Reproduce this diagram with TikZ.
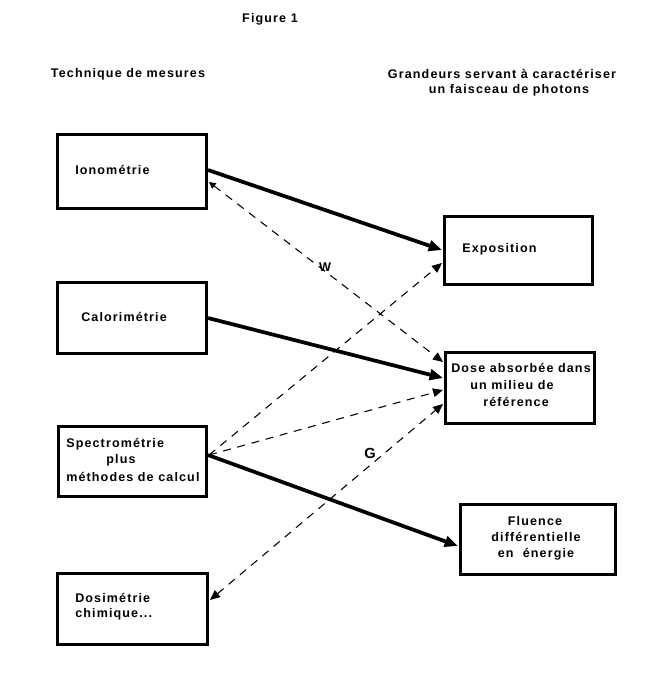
\documentclass[tikz,border=0pt]{standalone}
\usepackage{fontspec}
\setmainfont{Liberation Sans}[LetterSpace=9]
\usetikzlibrary{arrows.meta,calc}
\begin{document}
\begin{tikzpicture}[x=0.75pt,y=-0.75pt,
  box/.style={draw,line width=2.25pt,inner sep=0pt},
  txt/.style={inner sep=0pt,font=\bfseries\fontsize{9.4}{11}\selectfont},
  solidarrow/.style={line width=2.8pt,-{Triangle[length=10pt,width=8pt]}},
  dasharrow/.style={line width=0.8pt,dash pattern=on 6pt off 5pt,-{Triangle[length=7.5pt,width=6.5pt]}},
  smalltip/.style={{Triangle[length=5pt,width=5pt]}-{Triangle[length=7.5pt,width=6.5pt]}},
  biglabel/.style={inner sep=0pt,font=\bfseries\fontsize{11}{13}\selectfont}]
\useasboundingbox (0,0) rectangle (647,677);
\fill[white] (0,0) rectangle (647,677);
% titles
\node[txt] (fig) at (270,19) {Figure 1};
\node[txt] (techtitle) at (128,74) {Technique de mesures};
\node[txt] (grtitle1) at (502,74) {Grandeurs servant à caractériser};
\node[txt] (grtitle2) at (509,90) {un faisceau de photons};
% left boxes
\node[box,minimum width=111.75pt,minimum height=55.5pt] (ion) at (132,171.5) {};
\node[box,minimum width=111.75pt,minimum height=53.25pt] (cal) at (132,318) {};
\node[box,minimum width=111pt,minimum height=52.5pt] (spec) at (132.5,461.5) {};
\node[box,minimum width=112.5pt,minimum height=53.25pt] (dosi) at (132.5,609) {};
% right boxes
\node[box,minimum width=111pt,minimum height=51pt] (exp) at (518.5,250.5) {};
\node[box,minimum width=111.75pt,minimum height=53.25pt] (dose) at (520,388) {};
\node[box,minimum width=116.25pt,minimum height=52.5pt] (flu) at (538,539.5) {};
% box texts
\node[txt,anchor=west] (iont) at (75,170) {Ionométrie};
\node[txt,anchor=west] (calt) at (81,317) {Calorimétrie};
\node[txt,anchor=west] (spect1) at (66,444) {Spectrométrie};
\node[txt] (spect2) at (121,460) {plus};
\node[txt,anchor=west] (spect3) at (66,477) {méthodes de calcul};
\node[txt,anchor=west] (dosit1) at (75,598) {Dosimétrie};
\node[txt,anchor=west] (dosit2) at (75,614) {chimique...};
\node[txt,anchor=west] (expt) at (462,249) {Exposition};
\node[txt] (doset1) at (521,368) {Dose absorbée dans};
\node[txt] (doset2) at (512,385) {un milieu de};
\node[txt] (doset3) at (516,402) {référence};
\node[txt] (flut1) at (535,521) {Fluence};
\node[txt] (flut2) at (536,537) {différentielle};
\node[txt] (flut3) at (536,554) {en~~énergie};
% labels
\node[biglabel,font=\bfseries\fontsize{9.5}{11}\selectfont] (W) at (325,267) {W};
\node[biglabel] (G) at (370,453) {G};
% solid arrows
\draw[solidarrow] ($(ion.east)+(0,-1.5)$) -- ($(exp.west)+(-1,-0.5)$);
\draw[solidarrow] ($(cal.east)+(0,0)$) -- ($(dose.west)+(-1,-10)$);
\draw[solidarrow] ($(spec.east)+(0,-6.5)$) -- ($(flu.west)+(-1,6.5)$);
% dashed arrows
\draw[dasharrow,smalltip] ($(ion.east)+(1,10.5)$) -- ($(dose.west)+(-1,-26)$);
\draw[dasharrow] ($(spec.east)+(1,-6.5)$) -- ($(exp.west)+(-1,12.5)$);
\draw[dasharrow] ($(spec.east)+(1,-6.5)$) -- ($(dose.west)+(-1,2)$);
\draw[dasharrow,{Triangle[length=7.5pt,width=6.5pt]}-{Triangle[length=7.5pt,width=6.5pt]}] ($(dosi.east)+(1,-9)$) -- ($(dose.west)+(-1,16)$);
\end{tikzpicture}
\end{document}
